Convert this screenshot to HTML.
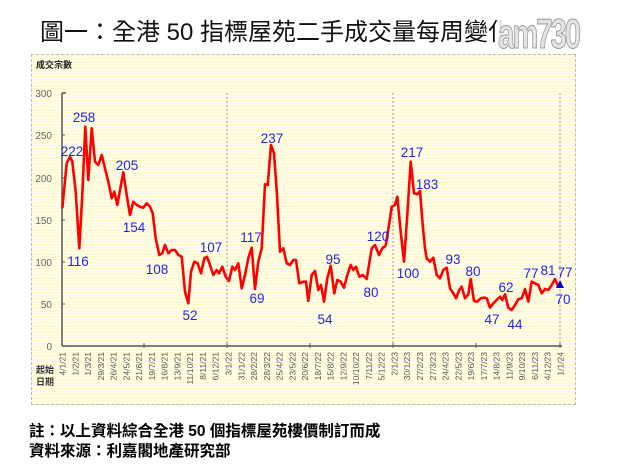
<!DOCTYPE html>
<html><head><meta charset="utf-8"><style>
html,body{margin:0;padding:0;background:#fff;}
body{width:618px;height:467px;position:relative;overflow:hidden;font-family:"Liberation Sans","Noto Sans CJK TC",sans-serif;}
#panel{position:absolute;left:31px;top:54px;width:545px;height:351px;border:1px dashed #bbb;box-sizing:border-box;
background:repeating-linear-gradient(to bottom,#fffacc 0px,#fffacc 1.5px,#fffef0 1.5px,#fffef0 3px);}
#title{position:absolute;left:40px;top:12px;font-size:24px;color:#111;font-family:"Liberation Sans","Noto Sans CJK TC",sans-serif;white-space:nowrap;}
#logo{position:absolute;left:498px;top:0px;width:120px;height:54px;background:rgba(255,255,255,0.85);}
#logo span{position:absolute;left:0;top:10px;font-size:42px;font-weight:bold;color:#e4e4e4;-webkit-text-stroke:1px #999;letter-spacing:-3px;transform:scaleX(0.7);transform-origin:left;font-family:"Liberation Sans Narrow","Liberation Sans",sans-serif;}
.foot{position:absolute;left:29px;font-size:15.5px;font-weight:bold;color:#000;white-space:nowrap;}
</style></head><body>
<div id="title">圖一：全港 50 指標屋苑二手成交量每周變化</div>
<div id="logo"><span>am730</span></div>
<div id="panel"></div>
<svg width="618" height="467" style="position:absolute;left:0;top:0" xmlns="http://www.w3.org/2000/svg">
<text x="36" y="68" font-size="9" font-weight="bold" fill="#222" font-family="Liberation Sans,Noto Sans CJK TC,sans-serif">成交宗數</text>
<g font-size="10" fill="#666" text-anchor="end">
<text x="52" y="97">300</text><text x="52" y="139">250</text><text x="52" y="182">200</text><text x="52" y="224">150</text><text x="52" y="266">100</text><text x="52" y="308">50</text><text x="52" y="350">0</text>
</g>
<g stroke="#999" stroke-dasharray="2,2" stroke-width="1">
<line x1="227" y1="93" x2="227" y2="346"/><line x1="393" y1="93" x2="393" y2="346"/><line x1="560" y1="93" x2="560" y2="346"/>
</g>
<g stroke="#555" stroke-width="1.5" fill="none">
<line x1="62" y1="93" x2="62" y2="346"/><line x1="62" y1="346" x2="562" y2="346"/>
<line x1="62" y1="93" x2="66" y2="93"/>
</g>
<g stroke="#555" stroke-width="1">
<line x1="62" y1="135" x2="65" y2="135"/><line x1="62" y1="178" x2="65" y2="178"/><line x1="62" y1="220" x2="65" y2="220"/><line x1="62" y1="262" x2="65" y2="262"/><line x1="62" y1="304" x2="65" y2="304"/>
<line x1="144" y1="343" x2="144" y2="348"/><line x1="227" y1="343" x2="227" y2="348"/><line x1="310" y1="343" x2="310" y2="348"/><line x1="393" y1="343" x2="393" y2="348"/><line x1="476" y1="343" x2="476" y2="348"/><line x1="560" y1="343" x2="560" y2="348"/>
</g>
<polyline fill="none" stroke="#ff0000" stroke-width="2.6" stroke-linejoin="round" points="
62.3,208.3 66.7,163.3 70,156.7 72.3,161.7 75.7,191.7 79.3,248.3 82.3,195 85.3,126.7 88.3,180 91.7,128.3 95,161.7 98.3,165 101.7,155 105,168.3 108.3,181.7 111.7,198.3 114.3,191.7 117.3,205 120.3,188.3 123.3,172.3 126.7,195 130,215 133.3,201.7 136.7,205 140,206.7 143.3,207.7 146.7,203.3 150,206.7 152.7,213.3 155.7,238.3 159.3,255 162.3,253.3 165,245 168.3,253.3 171.7,250 175,250 178.3,255 181.7,256.7 185,291.7 188.3,303.3 191,271.7 194.3,261.7 197.7,263.3 201,273.3 204.3,258.3 207,256.7 210,265 213.3,275 216.7,270 219,273.3 222.3,266.7 225.7,276.7 229,281 232.3,266.7 235,270 238.3,263.3 241.7,288.3 245,275 248.3,258.3 251.7,247.7 255,289 258.3,261.7 261.7,248.3 265,184.3 267.7,185 271,145 274,153.3 277,195 280,251.7 283.3,248.3 286.7,263.3 290,265 293.3,260 296,260 299.3,283.3 303.3,281.7 306,281.7 308.3,301 311.7,275 315,271 318.3,290 321,285 324,301.7 327.3,278.3 330.7,265.7 334.3,293.3 337.3,280 340.7,281.7 344,287.7 347.3,275 350.7,265 353.3,270 356,266.7 359.3,276.7 362.7,275 366.7,279 371.7,248.3 375,245 379,255 382.3,248.3 385.7,245.7 389,225 391.7,206.7 395,205 397.3,196.7 400.7,231.7 404,261.7 407.3,215 410.7,161.7 414,193.3 417.3,194.3 420,191 422.7,225 425,248.3 426.7,258.3 430,261.7 433.3,257.7 436.7,275 440,278.3 443.3,270 446.7,267.7 450,288.3 453.3,293.3 456,298.3 459.3,290 461.7,286.7 465,298.3 468.3,294.3 470.7,279 474,301 477.3,301.7 480.7,298.3 484,297.7 486.7,298.3 490,307.7 493.3,303.3 496.7,300 500,296.7 502.3,300 505,294.3 508.3,307.7 511.7,310 515,305 518.3,299.3 521.7,298.3 525,289 528.3,301.7 531.7,281.7 535,283.3 538.3,285 541.7,293.3 545,289 548.3,290 551.7,285 555,279 558.3,286.7"/>
<polygon points="560,280 556,288 564,288" fill="#0000dd"/>
<g fill="#2222ee" font-size="13.5" text-anchor="middle" font-family="Liberation Sans,sans-serif">
<text x="72" y="156">222</text><text x="84" y="122">258</text><text x="78" y="266">116</text><text x="127" y="170">205</text><text x="134" y="232">154</text><text x="157" y="274">108</text><text x="190" y="320">52</text><text x="211" y="252">107</text><text x="251" y="242">117</text><text x="257" y="303">69</text><text x="272" y="143">237</text>
<text x="325" y="324">54</text><text x="333" y="264">95</text><text x="378" y="241">120</text><text x="371" y="297">80</text><text x="408" y="278">100</text><text x="412" y="157">217</text><text x="427" y="189">183</text><text x="453" y="264">93</text><text x="473" y="276">80</text><text x="492" y="324">47</text><text x="506" y="292">62</text><text x="515" y="329">44</text><text x="531" y="278">77</text><text x="548" y="275">81</text><text x="565" y="277">77</text><text x="563" y="304">70</text>
</g>
<g font-size="8.5" fill="#555" text-anchor="end">
<text transform="translate(65.5,352) rotate(-90)">4/1/21</text><text transform="translate(78.3,352) rotate(-90)">1/2/21</text><text transform="translate(91.1,352) rotate(-90)">1/3/21</text><text transform="translate(103.8,352) rotate(-90)">29/3/21</text><text transform="translate(116.6,352) rotate(-90)">26/4/21</text><text transform="translate(129.4,352) rotate(-90)">24/5/21</text><text transform="translate(142.1,352) rotate(-90)">21/6/21</text><text transform="translate(154.9,352) rotate(-90)">19/7/21</text><text transform="translate(167.7,352) rotate(-90)">16/8/21</text><text transform="translate(180.4,352) rotate(-90)">13/9/21</text><text transform="translate(193.2,352) rotate(-90)">11/10/21</text><text transform="translate(206,352) rotate(-90)">8/11/21</text><text transform="translate(218.7,352) rotate(-90)">6/12/21</text><text transform="translate(231.5,352) rotate(-90)">3/1/22</text><text transform="translate(244.3,352) rotate(-90)">31/1/22</text><text transform="translate(257,352) rotate(-90)">28/2/22</text><text transform="translate(269.8,352) rotate(-90)">28/3/22</text><text transform="translate(282.6,352) rotate(-90)">25/4/22</text><text transform="translate(295.3,352) rotate(-90)">23/5/22</text><text transform="translate(308.1,352) rotate(-90)">20/6/22</text><text transform="translate(320.9,352) rotate(-90)">18/7/22</text><text transform="translate(333.6,352) rotate(-90)">15/8/22</text><text transform="translate(346.4,352) rotate(-90)">12/9/22</text><text transform="translate(359.2,352) rotate(-90)">10/10/22</text><text transform="translate(371.9,352) rotate(-90)">7/11/22</text><text transform="translate(384.7,352) rotate(-90)">5/12/22</text><text transform="translate(397.5,352) rotate(-90)">2/1/23</text><text transform="translate(410.2,352) rotate(-90)">30/1/23</text><text transform="translate(423,352) rotate(-90)">27/2/23</text><text transform="translate(435.8,352) rotate(-90)">27/3/23</text><text transform="translate(448.5,352) rotate(-90)">24/4/23</text><text transform="translate(461.3,352) rotate(-90)">22/5/23</text><text transform="translate(474.1,352) rotate(-90)">19/6/23</text><text transform="translate(486.8,352) rotate(-90)">17/7/23</text><text transform="translate(499.6,352) rotate(-90)">14/8/23</text><text transform="translate(512.4,352) rotate(-90)">11/9/23</text><text transform="translate(525.1,352) rotate(-90)">9/10/23</text><text transform="translate(537.9,352) rotate(-90)">6/11/23</text><text transform="translate(550.7,352) rotate(-90)">4/12/23</text><text transform="translate(563.4,352) rotate(-90)">1/1/24</text>
</g>
<g font-size="9" fill="#333" font-weight="bold" font-family="Liberation Sans,Noto Sans CJK TC,sans-serif">
<text x="36" y="373">起始</text><text x="36" y="385">日期</text>
</g>
</svg>
<div class="foot" style="top:419px">註：以上資料綜合全港 50 個指標屋苑樓價制訂而成</div>
<div class="foot" style="top:439px">資料來源：利嘉閣地產研究部</div>
</body></html>
